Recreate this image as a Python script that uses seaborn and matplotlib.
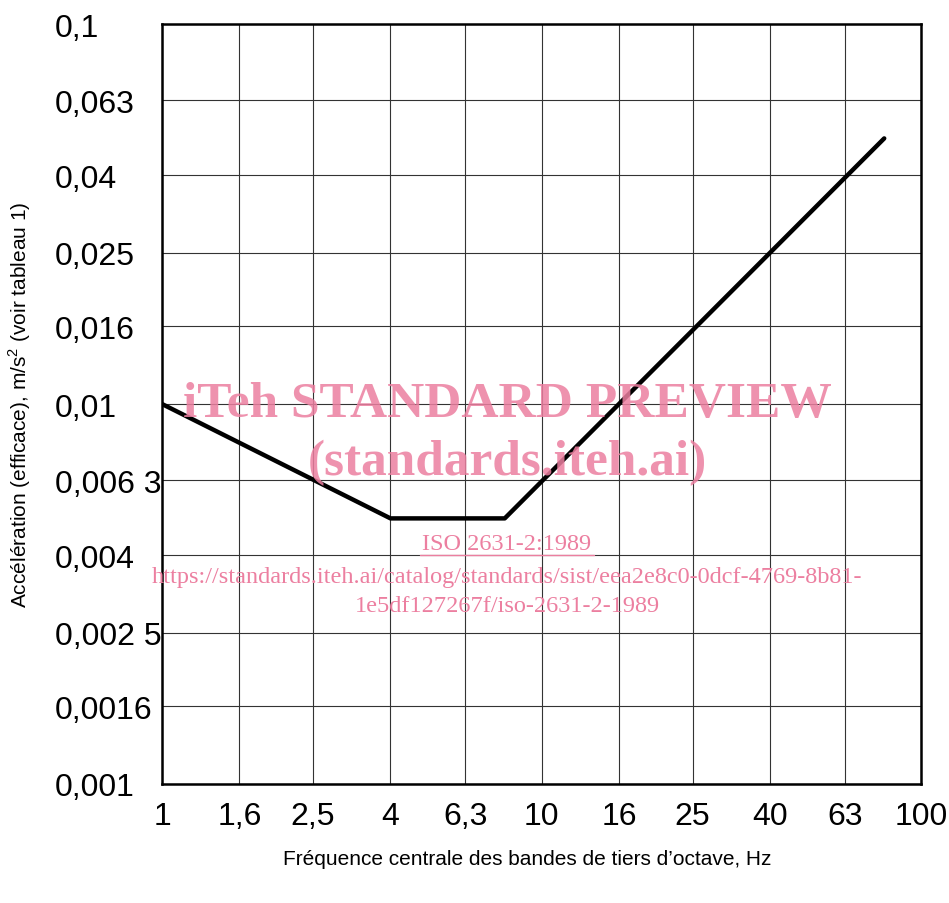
import matplotlib
matplotlib.use("Agg")
import matplotlib.pyplot as plt
import seaborn as sns
import pandas as pd

# Data
freq = [1, 4, 8, 80]
accel = [0.01, 0.005, 0.005, 0.05]

xticks = [1, 1.6, 2.5, 4, 6.3, 10, 16, 25, 40, 63, 100]
xtick_labels = ["1", "1,6", "2,5", "4", "6,3", "10", "16", "25", "40", "63", "100"]
yticks = [0.001, 0.0016, 0.0025, 0.004, 0.0063, 0.01, 0.016, 0.025, 0.04, 0.063, 0.1]
ytick_labels = ["0,001", "0,0016", "0,002 5", "0,004", "0,006 3", "0,01",
                "0,016", "0,025", "0,04", "0,063", "0,1"]

xlabel = "Fréquence centrale des bandes de tiers d’octave, Hz"
ylabel = "Accélération (efficace), m/s$^2$ (voir tableau 1)"

sns.set_theme(style="white")
plt.rcParams['font.family'] = ['Liberation Sans', 'DejaVu Sans']
plt.rcParams['mathtext.fontset'] = 'custom'
plt.rcParams['mathtext.rm'] = 'Liberation Sans'

fig = plt.figure(figsize=(9.49, 9.04), dpi=100)
ax = fig.add_axes([162/949, 1-785/904, (921-162)/949, (785-25)/904])

df = pd.DataFrame({"f": freq, "a": accel})
sns.lineplot(data=df, x="f", y="a", sort=False, color="black", linewidth=3.2, ax=ax, zorder=5)

ax.set_xscale("log")
ax.set_yscale("log")
ax.set_xlim(1, 100)
ax.set_ylim(0.001, 0.1)
ax.minorticks_off()
ax.set_xticks(xticks)
ax.set_xticklabels(xtick_labels, fontsize=23, color="black")
ax.set_yticks(yticks)
ax.set_yticklabels(ytick_labels, fontsize=23, ha="left", color="black")
ax.tick_params(axis="y", length=0, pad=77)
ax.tick_params(axis="x", length=0, pad=12)

ax.grid(True, color="#333333", linewidth=0.8, linestyle="-")
for s in ax.spines.values():
    s.set_color("black")
    s.set_linewidth(1.8)

ax.set_xlabel("")
ax.set_ylabel("")
fig.text(527/949, 1-860/904, xlabel, ha="center", va="center", fontsize=15,
         color="black")
fig.text(20/949, 1-405/904, ylabel, ha="center", va="center", fontsize=15,
         rotation=90, color="black")

# Watermark
pink = "#EC7FA0"
fig.text(507/949, 1-405/904, "iTeh STANDARD PREVIEW", ha="center", va="center",
         fontsize=37, fontweight="bold", color=pink, alpha=0.85,
         family=['Liberation Serif'], zorder=10)
fig.text(507/949, 1-463/904, "(standards.iteh.ai)", ha="center", va="center",
         fontsize=37, fontweight="bold", color=pink, alpha=0.85,
         family=['Liberation Serif'], zorder=10)
fig.text(507/949, 1-545/904, "ISO 2631-2:1989", ha="center", va="center",
         fontsize=17.5, color=pink, family=['Liberation Serif'], zorder=10)
fig.add_artist(plt.Line2D([420/949, 594/949], [1-556/904, 1-556/904],
                          color=pink, linewidth=1.0))
fig.text(507/949, 1-578/904,
         "https://standards.iteh.ai/catalog/standards/sist/eea2e8c0-0dcf-4769-8b81-",
         ha="center", va="center", fontsize=17.5, color=pink,
         family=['Liberation Serif'], zorder=10)
fig.text(507/949, 1-607/904, "1e5df127267f/iso-2631-2-1989",
         ha="center", va="center", fontsize=17.5, color=pink,
         family=['Liberation Serif'], zorder=10)

fig.savefig("out.png", dpi=100)
